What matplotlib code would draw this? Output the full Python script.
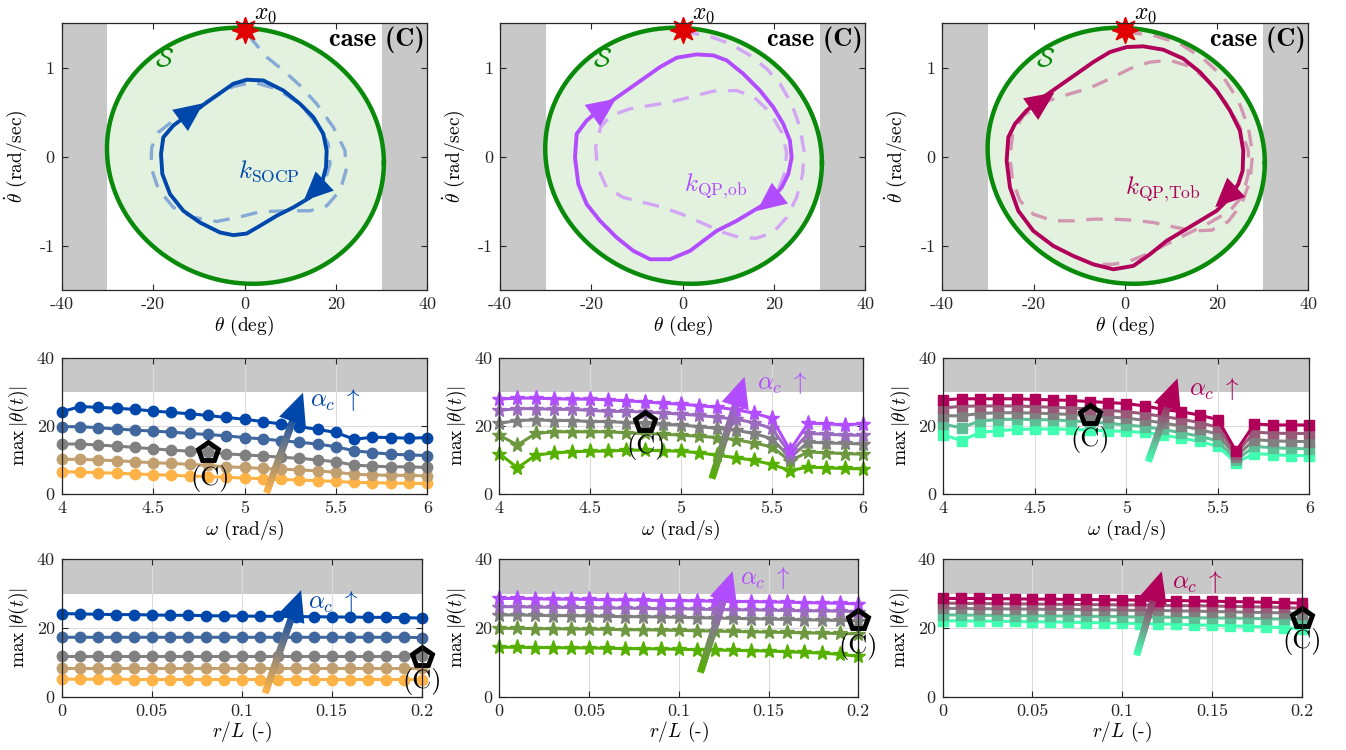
import numpy as np
import matplotlib.pyplot as plt
from matplotlib.collections import LineCollection
from matplotlib.colors import LinearSegmentedColormap

plt.rcParams.update({
    "font.family": "serif",
    "font.serif": ["cmr10"],
    "mathtext.fontset": "cm",
    "axes.unicode_minus": False,
    "axes.linewidth": 0.9,
    "axes.edgecolor": "#262626",
})

# ---------------- data ----------------
# safe set S: center + shape matrix (boundary = c + M [cos t, sin t])
ellipse_center = [0.2, 0.01]
ellipse_shape = [[30.3, 0.0], [-0.079, 1.438]]
x0_point = [0.0, 1.43]

# closed-loop trajectories (theta [deg], theta_dot [rad/s])
socp_limit_x = [-9.74, -6.09, -2.44, 0.47, 4.12, 8.50, 12.15, 15.06, 17.25, 17.98, 17.83, 16.88, 14.33,
                10.69, 7.05, 3.39, 0.47, -2.44, -5.36, -9.74, -13.38, -16.30, -17.98, -18.27, -17.76,
                -15.57, -12.65, -9.74]
socp_limit_y = [0.556, 0.688, 0.82, 0.865, 0.857, 0.744, 0.594, 0.444, 0.256, 0.068, -0.12, -0.308, -0.459,
                -0.571, -0.665, -0.778, -0.865, -0.883, -0.853, -0.741, -0.609, -0.421, -0.195, 0.03, 0.218,
                0.35, 0.462, 0.556]
socp_dash_x = [0.84, 4.85, 8.5, 12.15, 15.79, 19.44, 21.99, 22.21, 20.90, 17.98, 14.33, 9.23, 3.39, -0.98,
               -6.09, -11.2, -15.57, -18.85, -20.46, -20.31, -18.85, -15.57, -11.2, -6.81, -2.44, 1.93,
               7.04, 12.15, 15.79, 18.34, 18.71, 17.61]
socp_dash_y = [1.365, 1.12, 0.97, 0.80, 0.594, 0.331, 0.068, -0.158, -0.383, -0.553, -0.609, -0.609, -0.62,
               -0.677, -0.729, -0.684, -0.571, -0.365, -0.12, 0.105, 0.274, 0.406, 0.519, 0.669, 0.789,
               0.838, 0.763, 0.594, 0.368, 0.143, -0.083, -0.271]

qpob_limit_x = [-15.91, -12.26, -8.61, -4.96, -1.31, 3.07, 6.72, 9.64, 13.28, 16.93, 19.85, 22.04, 23.50,
                23.87, 23.14, 21.68, 19.12, 15.47, 11.82, 7.45, 4.53, 1.61, -2.77, -7.15, -10.80, -14.45,
                -18.10, -21.02, -22.85, -23.58, -23.21, -21.02, -18.47, -15.91]
qpob_limit_y = [0.613, 0.744, 0.876, 1.008, 1.113, 1.150, 1.139, 1.083, 0.932, 0.744, 0.556, 0.368, 0.180,
                -0.008, -0.195, -0.346, -0.496, -0.609, -0.722, -0.835, -0.947, -1.060, -1.154, -1.154,
                -1.060, -0.910, -0.722, -0.534, -0.308, -0.008, 0.256, 0.406, 0.519, 0.613]
qpob_dash_x = [0.0, 5.26, 10.36, 14.74, 18.39, 21.31, 23.87, 25.69, 26.57, 26.28, 24.96, 22.77, 19.85,
               16.20, 12.55, 8.91, 4.53, 0.15, -4.23, -8.61, -12.99, -16.64, -18.69, -19.05, -17.96,
               -15.77, -11.53, -7.15, -2.77, 1.61, 6.72, 11.82, 15.47, 19.12, 21.68, 22.77, 22.41, 20.95]
qpob_dash_y = [1.402, 1.365, 1.271, 1.139, 0.989, 0.820, 0.594, 0.331, 0.068, -0.195, -0.459, -0.684,
               -0.853, -0.917, -0.910, -0.853, -0.752, -0.654, -0.571, -0.515, -0.459, -0.346, -0.120,
               0.105, 0.331, 0.462, 0.538, 0.575, 0.613, 0.669, 0.737, 0.744, 0.677, 0.500, 0.274, 0.049,
               -0.177, -0.365]

qptob_limit_x = [-17.92, -14.28, -10.64, -6.99, -3.35, 0.29, 3.93, 8.31, 12.68, 16.32, 19.96, 22.88, 25.06,
                 25.79, 25.65, 24.70, 22.88, 19.96, 16.32, 12.68, 9.03, 5.39, 1.75, -2.62, -6.99, -11.37,
                 -15.74, -20.11, -23.39, -25.21, -25.94, -25.57, -24.12, -21.57, -17.92]
qptob_limit_y = [0.669, 0.801, 0.932, 1.064, 1.177, 1.233, 1.241, 1.203, 1.102, 0.951, 0.744, 0.519, 0.293,
                 0.068, -0.158, -0.308, -0.459, -0.609, -0.722, -0.835, -0.947, -1.098, -1.229, -1.267,
                 -1.211, -1.117, -1.004, -0.835, -0.609, -0.346, -0.045, 0.218, 0.368, 0.519, 0.669]
qptob_dash_x = [0.0, 6.12, 11.95, 17.05, 21.42, 24.70, 26.89, 27.83, 27.25, 25.43, 22.51, 18.87, 14.86,
                10.49, 6.12, 1.75, -2.62, -6.99, -11.37, -15.74, -20.11, -23.02, -24.63, -25.21, -24.63,
                -22.30, -17.92, -12.82, -7.72, -3.35, 1.02, 5.39, 9.76, 14.13, 18.51, 22.15, 25.06, 26.89,
                26.89, 25.65, 22.88, 18.51, 13.41, 9.03, 4.66, 1.02, -2.62, -6.27]
qptob_dash_y = [1.402, 1.365, 1.271, 1.102, 0.895, 0.632, 0.331, 0.030, -0.271, -0.534, -0.729, -0.827,
                -0.835, -0.789, -0.741, -0.714, -0.703, -0.703, -0.722, -0.722, -0.647, -0.496, -0.271,
                -0.008, 0.256, 0.462, 0.613, 0.695, 0.774, 0.876, 0.989, 1.064, 1.083, 1.015, 0.838, 0.594,
                0.331, 0.068, -0.195, -0.440, -0.609, -0.741, -0.872, -0.985, -1.098, -1.173, -1.211, -1.211]

# arrow heads on limit cycles: (tail_x, tail_y, tip_x, tip_y)
socp_arrows = [(-13.5, 0.43, -8.5, 0.62), (16.0, -0.35, 12.5, -0.52)]
qpob_arrows = [(-19.0, 0.49, -14.1, 0.67), (19.8, -0.47, 15.8, -0.63)]
qptob_arrows = [(-20.0, 0.56, -15.0, 0.74), (22.5, -0.43, 19.2, -0.59)]

# sweeps over omega (rows ordered from lowest to highest alpha_c)
omega = [4.0, 4.1, 4.2, 4.3, 4.4, 4.5, 4.6, 4.7, 4.8, 4.9, 5.0, 5.1, 5.2, 5.3, 5.4, 5.5, 5.6, 5.7, 5.8, 5.9, 6.0]
socp_omega = [
    [6.6, 6.4, 6.3, 6.1, 5.9, 5.7, 5.5, 5.3, 5.1, 4.9, 4.7, 4.5, 4.3, 4.1, 3.9, 3.7, 3.4, 3.3, 3.2, 3.1, 3.1],
    [10.2, 10.2, 10.0, 9.8, 9.5, 9.2, 9.0, 8.7, 8.4, 8.0, 7.8, 7.5, 7.3, 7.1, 6.8, 6.4, 5.8, 5.6, 5.5, 5.5, 5.3],
    [14.7, 14.7, 14.4, 14.1, 13.7, 13.3, 12.9, 12.6, 12.3, 11.8, 11.5, 11.2, 10.8, 10.5, 10.0, 9.5, 8.5, 8.2, 8.0, 8.0, 7.8],
    [19.8, 19.8, 19.5, 19.1, 18.8, 18.5, 18.2, 17.8, 17.5, 17.1, 16.6, 16.2, 15.7, 15.2, 14.7, 13.9, 12.7, 12.2, 11.7, 11.5, 11.3],
    [24.2, 25.7, 25.5, 25.2, 24.9, 24.4, 24.0, 23.6, 23.1, 22.5, 22.0, 21.3, 20.6, 19.8, 19.0, 18.1, 16.1, 16.7, 16.6, 16.4, 16.6],
]
qpob_omega = [
    [11.9, 7.7, 11.4, 12.1, 12.4, 12.6, 12.6, 12.9, 12.9, 12.7, 12.6, 12.1, 11.4, 10.7, 9.9, 8.7, 6.9, 7.9, 7.7, 7.5, 7.4],
    [17.3, 14.4, 17.8, 18.3, 18.3, 18.3, 18.3, 18.0, 17.8, 17.6, 17.3, 17.0, 16.6, 16.0, 15.0, 13.9, 9.7, 12.4, 12.1, 11.9, 11.7],
    [20.8, 21.6, 21.8, 21.6, 21.6, 21.3, 21.3, 21.0, 20.8, 20.5, 20.3, 19.8, 19.3, 18.8, 17.8, 16.3, 10.7, 15.3, 15.0, 14.9, 14.7],
    [24.6, 25.1, 25.1, 24.9, 24.9, 24.6, 24.3, 24.3, 24.1, 23.8, 23.5, 23.1, 22.6, 22.0, 21.0, 19.3, 11.9, 17.8, 17.6, 17.3, 17.3],
    [27.9, 28.2, 28.2, 28.0, 27.9, 27.9, 27.7, 27.4, 27.1, 26.7, 26.4, 26.0, 25.5, 24.8, 23.8, 22.3, 12.9, 20.8, 20.7, 20.3, 20.7],
]
qptob_omega = [
    [17.4, 15.7, 18.1, 18.6, 19.0, 19.1, 19.1, 19.0, 18.8, 18.6, 18.4, 18.1, 17.4, 16.4, 15.5, 14.0, 9.2, 11.9, 11.6, 11.3, 11.3],
    [20.5, 19.5, 21.5, 21.9, 22.0, 21.9, 21.8, 21.5, 21.2, 20.8, 20.3, 19.8, 19.0, 18.0, 17.0, 15.6, 10.0, 14.0, 13.6, 13.4, 13.3],
    [23.0, 23.0, 23.7, 23.9, 23.9, 23.8, 23.6, 23.4, 23.1, 22.7, 22.3, 21.7, 20.9, 20.0, 19.0, 17.6, 11.0, 16.0, 15.6, 15.5, 15.4],
    [25.3, 25.8, 25.9, 25.9, 25.9, 25.7, 25.5, 25.3, 25.0, 24.6, 24.2, 23.6, 22.8, 22.0, 21.0, 19.6, 11.9, 18.2, 17.9, 17.8, 17.8],
    [27.7, 28.0, 28.0, 28.0, 28.0, 27.8, 27.7, 27.5, 27.2, 26.9, 26.6, 25.9, 24.9, 24.2, 23.2, 21.9, 12.6, 20.6, 20.3, 20.3, 20.3],
]

# sweeps over r/L
r_over_L = [0.0, 0.01, 0.02, 0.03, 0.04, 0.05, 0.06, 0.07, 0.08, 0.09, 0.10, 0.11, 0.12, 0.13, 0.14, 0.15,
            0.16, 0.17, 0.18, 0.19, 0.20]
socp_r = [
    [5.1, 5.1, 5.1, 5.1, 5.0, 5.0, 5.0, 5.0, 5.0, 5.0, 5.0, 5.0, 5.0, 5.0, 5.0, 5.0, 5.0, 5.0, 5.0, 5.0, 5.0],
    [8.3, 8.3, 8.3, 8.3, 8.3, 8.3, 8.3, 8.3, 8.3, 8.3, 8.3, 8.3, 8.3, 8.3, 8.3, 8.3, 8.3, 8.3, 8.3, 8.3, 8.3],
    [11.9, 11.9, 11.9, 11.9, 11.9, 11.9, 11.9, 11.9, 11.9, 11.9, 11.9, 11.9, 11.9, 11.9, 11.9, 11.9, 11.9, 11.9, 11.9, 11.9, 11.9],
    [17.3, 17.3, 17.3, 17.3, 17.3, 17.3, 17.3, 17.3, 17.3, 17.3, 17.3, 17.3, 17.3, 17.3, 17.3, 17.3, 17.3, 17.3, 17.3, 17.3, 17.2],
    [24.2, 24.1, 24.0, 23.9, 23.9, 23.8, 23.7, 23.7, 23.6, 23.5, 23.5, 23.4, 23.4, 23.3, 23.3, 23.2, 23.2, 23.1, 23.1, 23.0, 22.9],
]
qpob_r = [
    [14.4, 14.4, 14.3, 14.3, 14.2, 14.2, 14.1, 14.0, 14.0, 13.9, 13.8, 13.7, 13.6, 13.5, 13.4, 13.3, 13.1, 12.9, 12.7, 12.3, 11.8],
    [19.9, 19.9, 19.8, 19.8, 19.7, 19.7, 19.6, 19.5, 19.5, 19.4, 19.3, 19.2, 19.1, 19.0, 18.9, 18.8, 18.7, 18.6, 18.5, 18.4, 18.3],
    [23.8, 23.8, 23.7, 23.6, 23.6, 23.5, 23.4, 23.3, 23.3, 23.2, 23.1, 23.0, 22.9, 22.8, 22.7, 22.6, 22.5, 22.4, 22.3, 22.2, 22.1],
    [26.2, 26.2, 26.1, 26.0, 26.0, 25.9, 25.8, 25.8, 25.7, 25.6, 25.6, 25.5, 25.4, 25.3, 25.3, 25.2, 25.1, 25.0, 25.0, 24.9, 24.8],
    [28.6, 28.6, 28.5, 28.4, 28.4, 28.3, 28.2, 28.2, 28.1, 28.0, 28.0, 27.9, 27.8, 27.7, 27.7, 27.6, 27.5, 27.4, 27.3, 27.2, 27.0],
]
qptob_r = [
    [22.1, 22.1, 22.0, 22.0, 21.9, 21.8, 21.8, 21.7, 21.6, 21.5, 21.4, 21.3, 21.2, 21.1, 20.9, 20.8, 20.6, 20.5, 20.3, 20.1, 19.8],
    [23.8, 23.8, 23.7, 23.7, 23.6, 23.6, 23.5, 23.5, 23.4, 23.4, 23.3, 23.2, 23.2, 23.1, 23.0, 22.9, 22.9, 22.8, 22.7, 22.6, 22.5],
    [25.7, 25.7, 25.6, 25.6, 25.5, 25.5, 25.4, 25.4, 25.3, 25.3, 25.2, 25.1, 25.1, 25.0, 24.9, 24.8, 24.7, 24.6, 24.5, 24.4, 24.2],
    [27.2, 27.2, 27.1, 27.1, 27.0, 27.0, 26.9, 26.9, 26.8, 26.8, 26.7, 26.7, 26.6, 26.5, 26.5, 26.4, 26.3, 26.2, 26.1, 26.0, 25.7],
    [28.6, 28.6, 28.6, 28.5, 28.5, 28.4, 28.4, 28.3, 28.3, 28.2, 28.2, 28.1, 28.0, 28.0, 27.9, 27.8, 27.7, 27.6, 27.5, 27.4, 27.2],
]

# case (C) markers: (x, y) on each sweep panel
case_c_omega = [(4.8, 12.4), (4.8, 21.2), (4.8, 23.2)]
case_c_r = [(0.2, 11.7), (0.2, 22.2), (0.2, 22.9)]

# ---------------- style ----------------
main_colors = ["#0047ab", "#b24dff", "#b0005a"]
dash_colors = ["#86aad6", "#d3a6f5", "#d396b0"]
sweep_colors = [
    ["#ffb347", "#c29f6e", "#808080", "#41679f", "#0047ab"],
    ["#55b000", "#6d983f", "#808080", "#9a6bbf", "#b24dff"],
    ["#40ffb0", "#5cbf96", "#808080", "#985a78", "#b0005a"],
]
markers = ["o", "*", "s"]
msizes = [7.5, 11, 6.5]
k_labels = [r"$k_{\mathrm{SOCP}}$", r"$k_{\mathrm{QP{,}ob}}$", r"$k_{\mathrm{QP{,}Tob}}$"]
k_label_pos = [(-1.4, -0.16), (0.4, -0.33), (-0.1, -0.36)]
GRAY = "#c8c8c8"

fig = plt.figure(figsize=(13.46, 7.5), dpi=100)
W, H = 1346.0, 750.0


def add_ax(left, top, right, bottom):
    return fig.add_axes([left / W, 1 - bottom / H, (right - left) / W, (bottom - top) / H])


def style(ax):
    ax.tick_params(direction="in", top=True, right=True, length=4, width=0.8, labelsize=13,
                   pad=5, colors="#262626")
    for sp in ax.spines.values():
        sp.set_zorder(10)


def grad_arrow(ax, tail, tip, c_low, c_high):
    # shaft: short overlapping segments coloured low -> gray -> high, then a head
    cmap = LinearSegmentedColormap.from_list("g", [c_low, "#808080", c_high])
    t = np.linspace(0, 1, 40)
    px = tail[0] + (tip[0] - tail[0]) * t * 0.8
    py = tail[1] + (tip[1] - tail[1]) * t * 0.8
    pts = np.column_stack([px, py]).reshape(-1, 1, 2)
    segs = np.concatenate([pts[:-2], pts[2:]], axis=1)
    lc = LineCollection(segs, colors=cmap(t[:-2]), linewidths=5, capstyle="butt", zorder=6)
    ax.add_collection(lc)
    ax.annotate("", xy=tip, xytext=(px[-2], py[-2]),
                arrowprops=dict(arrowstyle="-|>,head_length=1.3,head_width=0.6", color=c_high,
                                lw=0, mutation_scale=17, shrinkA=0, shrinkB=0), zorder=7)


# ---------------- top row: phase portraits ----------------
top_boxes = [(61.7, 427.3), (500.0, 865.3), (942.3, 1308.3)]
limits = [(socp_limit_x, socp_limit_y), (qpob_limit_x, qpob_limit_y), (qptob_limit_x, qptob_limit_y)]
dashes = [(socp_dash_x, socp_dash_y), (qpob_dash_x, qpob_dash_y), (qptob_dash_x, qptob_dash_y)]
arrows = [socp_arrows, qpob_arrows, qptob_arrows]

tt = np.linspace(0, 2 * np.pi, 400)
M = np.array(ellipse_shape)
ell = np.array(ellipse_center)[:, None] + M @ np.vstack([np.cos(tt), np.sin(tt)])

for i, (l, r) in enumerate(top_boxes):
    ax = add_ax(l, 23.3, r, 290.0)
    ax.set_xlim(-40, 40)
    ax.set_ylim(-1.5, 1.5)
    ax.axvspan(-40, -30, color=GRAY, lw=0, zorder=0.5)
    ax.axvspan(30, 40, color=GRAY, lw=0, zorder=0.5)
    ax.fill(ell[0], ell[1], color="#e3f1df", lw=0, zorder=1)
    ax.plot(ell[0], ell[1], color="#0a8a0a", lw=3.2, zorder=4)
    ax.plot(dashes[i][0], dashes[i][1], color=dash_colors[i], lw=2.4, dashes=(5, 3.5), zorder=3)
    ax.plot(limits[i][0], limits[i][1], color=main_colors[i], lw=2.8, zorder=5,
            solid_joinstyle="round")
    for (tx, ty, hx, hy) in arrows[i]:
        ax.annotate("", xy=(hx, hy), xytext=(tx, ty),
                    arrowprops=dict(arrowstyle="-|>,head_length=1.1,head_width=0.5",
                                    color=main_colors[i], lw=0, mutation_scale=19), zorder=6)
    ax.plot(x0_point[0], x0_point[1], marker=(8, 1, 0), ms=19, color="#e00000", clip_on=False, zorder=8)
    ax.text(2.0, 1.6, r"$x_0$", fontsize=17, va="center", ha="left", zorder=8)
    ax.text(-17.5, 1.1, r"$\mathcal{S}$", fontsize=19, color="#0a8a0a", ha="center", va="center")
    ax.text(39.5, 1.31, "case (C)", fontfamily="cmb10", fontsize=19, ha="right", va="center")
    ax.text(k_label_pos[i][0], k_label_pos[i][1], k_labels[i], fontsize=18, color=main_colors[i],
            ha="left", va="center", zorder=7)
    ax.set_xticks([-40, -20, 0, 20, 40])
    ax.set_xticklabels(["-40", "-20", "0", "20", "40"])
    ax.set_yticks([-1, 0, 1])
    ax.set_yticklabels(["-1", "0", "1"])
    ax.set_xlabel(r"$\theta$ (deg)", fontsize=14, labelpad=1)
    ax.set_ylabel(r"$\dot{\theta}$ (rad/sec)", fontsize=14, labelpad=8)
    style(ax)

# ---------------- sweep rows ----------------
mid_boxes = [(61.7, 427.3), (499.3, 862.7), (943.3, 1309.3)]
bot_boxes = [(61.7, 421.7), (499.3, 858.3), (942.7, 1301.7)]
omega_data = [socp_omega, qpob_omega, qptob_omega]
r_data = [socp_r, qpob_r, qptob_r]

omega_arrows = [((5.12, 0.3), (5.32, 29.8)), ((5.17, 4.5), (5.35, 34.5)), ((5.12, 9.5), (5.28, 34.0))]
r_arrows = [((0.113, 1.0), (0.133, 31.0)), ((0.112, 7.0), (0.130, 36.5)), ((0.108, 12.0), (0.122, 36.5))]
omega_alpha_pos = [(5.36, 27.5), (5.42, 32.5), (5.34, 31.0)]
r_alpha_pos = [(0.137, 27.5), (0.134, 34.5), (0.128, 33.5)]
omega_c_text = [(4.81, 4.6), (4.81, 13.9), (4.8, 15.9)]
r_c_text = [(0.2, 4.4), (0.2, 14.6), (0.2, 16.0)]

for row in range(2):
    boxes = mid_boxes if row == 0 else bot_boxes
    top, bottom = (358.0, 494.0) if row == 0 else (559.3, 696.7)
    xs = omega if row == 0 else r_over_L
    datas = omega_data if row == 0 else r_data
    for i, (l, r) in enumerate(boxes):
        ax = add_ax(l, top, r, bottom)
        ax.set_ylim(0, 40)
        if row == 0:
            ax.set_xlim(4, 6)
            ax.set_xticks([4, 4.5, 5, 5.5, 6])
            ax.set_xticklabels(["4", "4.5", "5", "5.5", "6"])
            ax.set_xlabel(r"$\omega$ (rad/s)", fontsize=14, labelpad=1)
        else:
            ax.set_xlim(0, 0.2)
            ax.set_xticks([0, 0.05, 0.1, 0.15, 0.2])
            ax.set_xticklabels(["0", "0.05", "0.1", "0.15", "0.2"])
            ax.set_xlabel(r"$r/L$ (-)", fontsize=14, labelpad=1)
        ax.set_yticks([0, 20, 40])
        ax.set_yticklabels(["0", "20", "40"])
        ax.set_ylabel(r"$\max\,|\theta(t)|$", fontsize=14, labelpad=4)
        ax.axhspan(30, 40, color=GRAY, lw=0, zorder=0.5)
        ax.grid(True, color="#dcdcdc", lw=0.8)
        ax.set_axisbelow("line")
        for k, ys in enumerate(datas[i]):
            c = sweep_colors[i][k]
            ax.plot(xs, ys, color=c, lw=2.2, marker=markers[i], ms=msizes[i], mfc=c, mec=c,
                    clip_on=False, zorder=3 + k * 0.1)
        arr = omega_arrows[i] if row == 0 else r_arrows[i]
        grad_arrow(ax, arr[0], arr[1], sweep_colors[i][0], sweep_colors[i][-1])
        apos = omega_alpha_pos[i] if row == 0 else r_alpha_pos[i]
        ax.text(apos[0], apos[1], r"$\alpha_c\ \uparrow$", fontsize=18, color=sweep_colors[i][-1],
                ha="left", va="center", zorder=8)
        cpos = case_c_omega[i] if row == 0 else case_c_r[i]
        ax.plot(cpos[0], cpos[1], marker="p", ms=15, mfc="none", mec="black", mew=3.5,
                clip_on=False, zorder=9)
        tpos = omega_c_text[i] if row == 0 else r_c_text[i]
        ax.text(tpos[0], tpos[1], "(C)", fontsize=19, ha="center", va="center", zorder=9, clip_on=False)
        style(ax)

fig.savefig("out.png", dpi=100)
